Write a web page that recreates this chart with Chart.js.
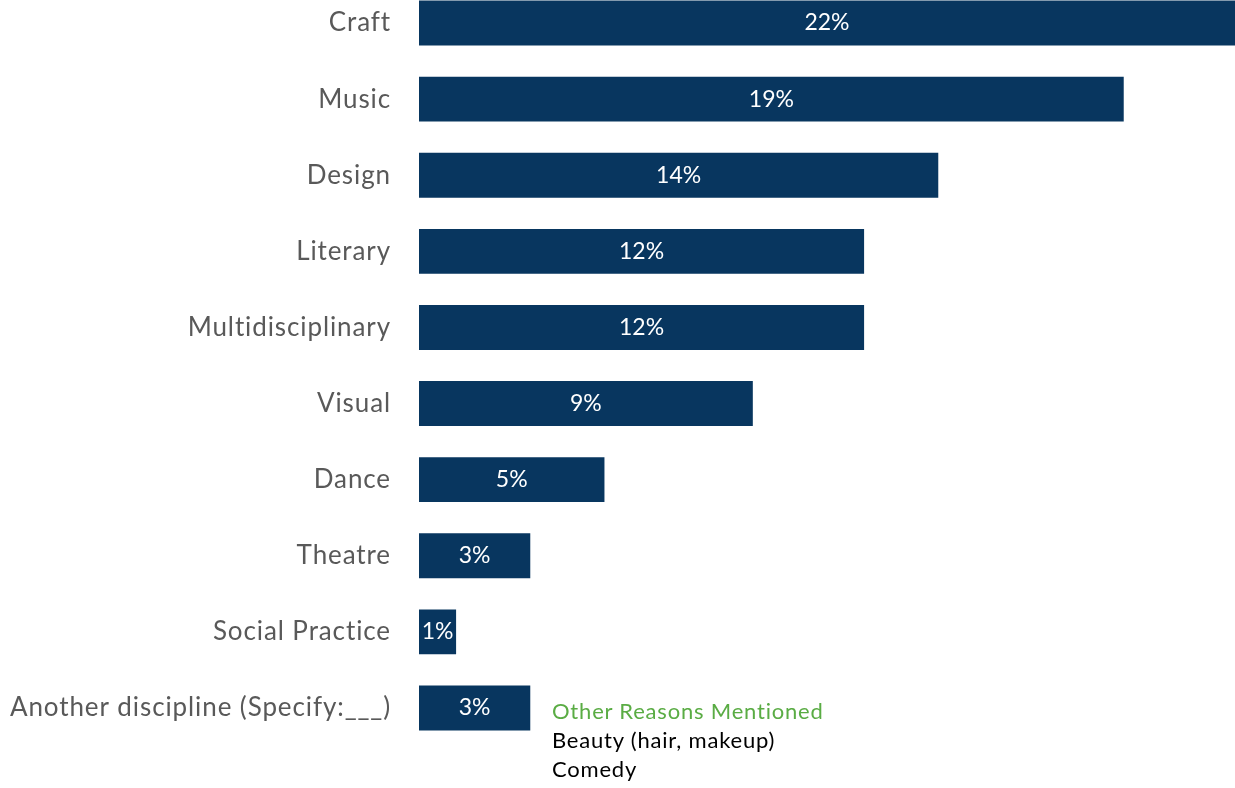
<!DOCTYPE html>
<html>
<head>
<meta charset="utf-8">
<script src="https://cdn.jsdelivr.net/npm/chart.js@4.4.1/dist/chart.umd.min.js"></script>
<style>
  html, body { margin: 0; padding: 0; background: #fff; overflow: hidden; }
  body { width: 1235px; height: 788px; position: relative; font-family: Lato, "Open Sans", sans-serif; }
  #wrap { position: absolute; left: 0; top: -15px; width: 1235px; height: 761px; }
  #notes { position: absolute; left: 552px; top: 696px; font-size: 22px; line-height: 29px; letter-spacing: 0.8px; color: #000; }
  #notes .head { color: #5aac44; }
</style>
</head>
<body>
<div id="wrap"><canvas id="disciplineChart"></canvas></div>
<div id="notes">
  <div class="head">Other Reasons Mentioned</div>
  <div>Beauty (hair, makeup)</div>
  <div>Comedy</div>
</div>
<script>
const categories = ['Craft', 'Music', 'Design', 'Literary', 'Multidisciplinary', 'Visual', 'Dance', 'Theatre', 'Social Practice', 'Another discipline (Specify:___)'];
const shares = [22, 19, 14, 12, 12, 9, 5, 3, 1, 3];

// slightly spaced lettering for the category labels
const labelSpacing = {
  id: 'labelSpacing',
  beforeDraw(chart) { chart.ctx.letterSpacing = '0.9px'; }
};

// writes the percentage in the middle of each bar
const barValues = {
  id: 'barValues',
  afterDatasetsDraw(chart) {
    const { ctx } = chart;
    const meta = chart.getDatasetMeta(0);
    ctx.save();
    ctx.letterSpacing = '0px';
    ctx.fillStyle = '#ffffff';
    ctx.font = '23px Lato, "Open Sans", sans-serif';
    ctx.textAlign = 'center';
    ctx.textBaseline = 'middle';
    meta.data.forEach((bar, i) => {
      const mid = (bar.x + bar.base) / 2;
      ctx.fillText(shares[i] + '%', mid, bar.y);
    });
    ctx.restore();
  }
};

new Chart(document.getElementById('disciplineChart'), {
  type: 'bar',
  data: {
    labels: categories,
    datasets: [{
      data: shares,
      backgroundColor: '#08365f',
      categoryPercentage: 0.59,
      barPercentage: 1
    }]
  },
  options: {
    indexAxis: 'y',
    responsive: true, maintainAspectRatio: false,
    animation: false,
    layout: { padding: 0 },
    plugins: { legend: { display: false }, tooltip: { enabled: false } },
    scales: {
      x: { display: false, min: 0, max: 22 },
      y: {
        grid: { display: false },
        border: { display: false },
        ticks: { color: '#595959', font: { size: 26, family: 'Lato, "Open Sans", sans-serif' }, padding: 20 },
        afterFit(scale) {
          scale.width = 419;
          scale.paddingTop = 0;
          scale.paddingBottom = 0;
        }
      }
    }
  },
  plugins: [labelSpacing, barValues]
});
</script>
</body>
</html>
